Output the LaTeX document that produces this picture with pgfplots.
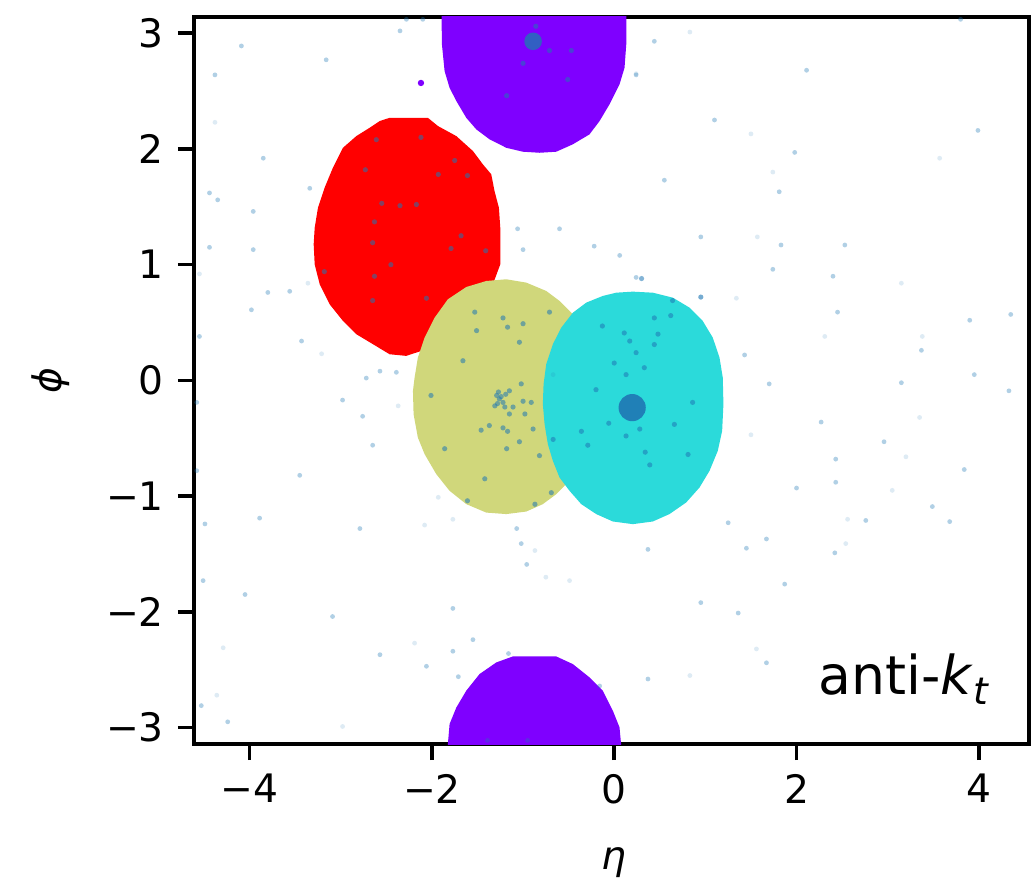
\documentclass[border=0pt]{standalone}
\usepackage{fontspec}
\setmainfont{DejaVu Sans}
\usepackage{pgfplots}
\pgfplotsset{compat=1.18}
\definecolor{jpurple}{RGB}{127,0,255}
\definecolor{jred}{RGB}{255,0,0}
\definecolor{jolive}{RGB}{208,215,123}
\definecolor{jcyan}{RGB}{43,218,218}
\definecolor{tabblue}{RGB}{31,119,180}
\begin{document}
\begin{tikzpicture}
\begin{axis}[
  scale only axis, width=208.75pt, height=181.8pt,
  xmin=-4.61, xmax=4.55, ymin=-3.1416, ymax=3.1416,
  axis line style={line width=0.9pt},
  tick align=outside, major tick length=4pt,
  tick style={line width=0.9pt, black},
  xtick pos=left, ytick pos=left,
  xtick={-4,-2,0,2,4}, xticklabels={−4,−2,0,2,4},
  ytick={-3,-2,-1,0,1,2,3}, yticklabels={−3,−2,−1,0,1,2,3},
  tick label style={font=\fontsize{9.8}{11}\selectfont},
  label style={font=\fontsize{9.8}{11}\selectfont},
  xlabel={\textit{η}}, ylabel={\textit{ϕ}},
  xlabel style={at={(axis description cs:0.503,-0.163)}, anchor=center},
  ylabel style={at={(axis description cs:-0.172,0.5)}, anchor=center},
]
% jet areas
\addplot[draw=none, fill=jred] coordinates {
(-2.464,2.269) (-2.044,2.269) (-1.934,2.198) (-1.732,2.111) (-1.550,1.982) (-1.441,1.867) (-1.349,1.781) (-1.313,1.636) (-1.265,1.492) (-1.250,1.319) (-1.250,1.003) (-1.331,0.831) (-2.116,0.255) (-2.281,0.212) (-2.464,0.226) (-2.647,0.313) (-2.829,0.399) (-2.976,0.514) (-3.122,0.658) (-3.231,0.831) (-3.286,1.003) (-3.297,1.176) (-3.286,1.319) (-3.250,1.492) (-3.177,1.665) (-3.086,1.838) (-2.976,2.010) (-2.829,2.111) (-2.683,2.183) (-2.573,2.241)
} -- cycle;
\addplot[draw=none, fill=jolive] coordinates {
(-1.184,0.874) (-0.965,0.845) (-0.746,0.773) (-0.600,0.687) (-0.454,0.572) (-0.362,0.370) (-0.307,0.082) (-0.307,-0.206) (-0.344,-0.494) (-0.417,-0.724) (-0.545,-0.911) (-0.636,-0.983) (-0.783,-1.069) (-0.965,-1.133) (-1.184,-1.155) (-1.404,-1.142) (-1.623,-1.069) (-1.806,-0.954) (-1.952,-0.810) (-2.080,-0.637) (-2.154,-0.494) (-2.201,-0.292) (-2.208,-0.091) (-2.190,0.024) (-2.154,0.197) (-2.080,0.370) (-1.970,0.542) (-1.825,0.701) (-1.623,0.807) (-1.404,0.859)
} -- cycle;
\addplot[draw=none, fill=jcyan] coordinates {
(0.204,0.767) (0.423,0.758) (0.643,0.715) (0.826,0.629) (0.971,0.514) (1.081,0.370) (1.155,0.197) (1.191,0.024) (1.198,-0.206) (1.184,-0.436) (1.136,-0.609) (1.045,-0.782) (0.935,-0.926) (0.789,-1.055) (0.606,-1.155) (0.423,-1.219) (0.204,-1.242) (-0.015,-1.219) (-0.197,-1.155) (-0.362,-1.069) (-0.490,-0.954) (-0.600,-0.839) (-0.673,-0.695) (-0.728,-0.551) (-0.764,-0.378) (-0.783,-0.206) (-0.775,-0.033) (-0.746,0.140) (-0.673,0.313) (-0.581,0.456) (-0.454,0.585) (-0.307,0.672) (-0.125,0.730) (0.022,0.758)
} -- cycle;
\addplot[draw=none, fill=jpurple] coordinates {
(-1.897,3.3) (-1.890,2.903) (-1.861,2.673) (-1.806,2.528) (-1.732,2.414) (-1.623,2.269) (-1.513,2.169) (-1.367,2.083) (-1.184,2.010) (-1.002,1.976) (-0.819,1.967) (-0.636,1.976) (-0.454,2.040) (-0.271,2.126) (-0.161,2.241) (-0.052,2.385) (0.058,2.558) (0.113,2.701) (0.132,2.903) (0.132,3.3)
} -- cycle;
\addplot[draw=none, fill=jpurple] coordinates {
(-1.842,-3.3) (-1.806,-2.969) (-1.732,-2.826) (-1.623,-2.681) (-1.477,-2.537) (-1.294,-2.437) (-1.112,-2.385) (-0.636,-2.385) (-0.454,-2.451) (-0.271,-2.566) (-0.125,-2.681) (-0.015,-2.854) (0.058,-2.998) (0.094,-3.3)
} -- cycle;
\addplot[only marks, mark=*, color=jpurple, mark size=0.8pt, mark options={draw opacity=0, fill=jpurple}] coordinates {(-2.12,2.57)};
% faint particles
\addplot[only marks, mark=*, color=tabblue, mark size=0.6pt, mark options={draw opacity=0, fill=tabblue, fill opacity=0.15}] coordinates {
(0.83,3.01) (0.24,2.65) (1.50,2.13) (3.57,1.92) (1.74,1.80) (1.57,1.24) (3.15,0.84) (0.95,0.72) (1.34,0.71) (2.31,0.38) (3.38,0.38) (3.35,-0.32) (1.50,-0.47) (3.20,-0.66) (3.05,-0.95) (2.56,-1.20) (2.54,-1.41) (1.56,-2.32) (0.83,-2.55) (-4.38,2.23) (-4.55,0.92) (-3.36,0.84) (-3.21,0.23)
(-2.37,-0.22) (-1.93,-1.01) (-2.08,-1.25) (-1.77,-1.20) (-0.87,-1.47) (-0.75,-1.70) (-0.49,-1.73) (-2.19,-2.27) (-4.29,-2.31) (-4.36,-2.72) (-2.98,-2.99) (-0.67,0.05)
};
% normal particles
\addplot[only marks, mark=*, color=tabblue, mark size=0.6pt, mark options={draw opacity=0, fill=tabblue, fill opacity=0.35}] coordinates {
(-4.09,2.89) (-3.16,2.77) (-4.38,2.64) (-2.35,3.02) (-2.10,3.12) (-2.28,3.12) (-3.85,1.92) (-4.44,1.62) (-4.35,1.56) (-3.96,1.46) (-3.34,1.66) (-4.44,1.15) (-3.96,1.13) (-3.80,0.76) (-3.56,0.77) (-3.98,0.61) (-4.55,0.38) (-3.43,0.34) (-2.57,0.08) (-2.39,0.07) (-2.72,0.02) (-1.06,1.31) (-0.60,1.31) (-1.00,1.13) (-0.22,1.16) (0.06,1.08) (0.24,2.64) (0.24,0.89)
(0.44,2.93) (2.11,2.68) (3.80,3.12) (1.10,2.25) (1.98,1.97) (3.99,2.16) (0.55,1.73) (1.81,1.63) (0.95,1.24) (1.83,1.17) (2.53,1.17) (1.74,0.96) (2.40,0.90) (2.45,0.59) (4.35,0.57) (3.90,0.52) (3.37,0.26) (1.43,0.22) (3.95,0.05) (1.70,-0.03) (3.15,-0.02) (4.33,-0.09) (2.27,-0.36) (2.96,-0.53) (2.43,-0.68) (3.84,-0.77) (2.43,-0.88) (2.00,-0.93) (3.49,-1.09) (3.68,-1.22) (1.25,-1.23) (2.76,-1.21) (1.45,-1.45) (1.67,-1.37) (0.37,-1.46) (2.42,-1.49) (1.87,-1.76) (0.95,-1.92) (1.36,-2.01) (1.67,-2.44) (0.37,-2.58)
(-4.58,-0.19) (-2.98,-0.17) (-2.76,-0.31) (-2.65,-0.56) (-4.58,-0.78) (-3.45,-0.82) (-4.49,-1.24) (-3.89,-1.19) (-2.79,-1.28) (-1.07,-1.28) (-1.02,-1.41) (-0.96,-1.59) (-4.51,-1.73) (-4.05,-1.85) (-3.09,-2.04) (-1.77,-1.97) (-1.55,-2.24) (-1.77,-2.34) (-1.16,-2.36) (-2.57,-2.37) (-2.06,-2.47) (-1.71,-2.56) (-0.16,-2.64) (-4.53,-2.81) (-4.24,-2.95) (-1.39,-3.11) (-0.95,-3.11)
};
% particles inside jets
\addplot[only marks, mark=*, color=tabblue, mark size=0.65pt, mark options={draw opacity=0, fill=tabblue, fill opacity=0.55}] coordinates {
(-2.61,2.08) (-2.12,2.10) (-1.75,1.90) (-2.73,1.82) (-1.93,1.78) (-1.61,1.77) (-2.55,1.53) (-2.35,1.51) (-2.17,1.52) (-2.63,1.37) (-2.65,1.19) (-1.68,1.25) (-1.79,1.14) (-1.41,1.12) (-3.18,0.94) (-2.45,1.00) (-2.63,0.90) (-2.65,0.69) (-2.06,0.71)
(-0.71,2.85) (-0.47,2.85) (-1.00,2.74) (-0.51,2.60) (-1.18,2.46) (-0.86,3.06)
(-1.29,-0.13) (-1.22,-0.19) (-1.15,-0.09) (-1.31,-0.22) (-1.20,-0.23) (-1.26,-0.16) (-1.11,-0.23) (-1.00,-0.18) (-0.91,-0.19) (-0.98,-0.29) (-1.15,-0.29) (-1.22,-0.41) (-1.37,-0.39) (-1.46,-0.43) (-1.17,-0.44) (-0.89,-0.42) (-1.04,-0.53) (-1.18,-0.59) (-0.82,-0.65) (-1.42,-0.85) (-1.66,0.17) (-2.01,-0.13) (-1.51,0.43) (-1.53,0.59) (-1.22,0.54) (-1.17,0.46) (-1.00,0.49) (-0.71,0.59) (-1.04,0.33) (-1.02,-0.03) (-1.86,-0.59) (-1.61,-1.04) (-0.87,-1.07) (-0.69,-0.97)
(-1.27,-0.10) (-1.24,-0.14) (-1.28,-0.20) (-1.19,-0.12)
(0.44,0.54) (0.62,0.56) (0.11,0.41) (0.17,0.34) (0.44,0.31) (0.48,0.40) (-0.13,0.47) (0.00,0.15) (0.24,0.24) (0.33,0.11) (0.13,0.05) (-0.20,-0.08) (-0.06,-0.37) (0.28,-0.42) (0.13,-0.48) (-0.36,-0.44) (-0.67,-0.51) (-0.29,-0.56) (0.34,-0.62) (0.39,-0.73) (0.81,-0.64) (0.86,-0.19) (0.66,-0.38) (0.64,0.69) (0.30,0.88) (0.95,0.72)
};
% hard particles
\addplot[only marks, mark=*, color=tabblue, mark options={draw opacity=0, fill=tabblue, fill opacity=0.9}, mark size=3.4pt] coordinates {(0.197,-0.235)};
\addplot[only marks, mark=*, color=tabblue, mark options={draw opacity=0, fill=tabblue, fill opacity=0.8}, mark size=2.2pt] coordinates {(-0.89,2.93)};
\node[anchor=base west, inner sep=0pt, font=\fontsize{13.4}{15}\selectfont] at (axis cs:2.23,-2.71) {anti-\textit{k}\raisebox{-2.6pt}{\fontsize{9.4}{10}\selectfont\textit{t}}};
\end{axis}
\pgfresetboundingbox
\useasboundingbox (-48.5pt,-34.25pt) rectangle (209.25pt,186pt);
\end{tikzpicture}
\end{document}
